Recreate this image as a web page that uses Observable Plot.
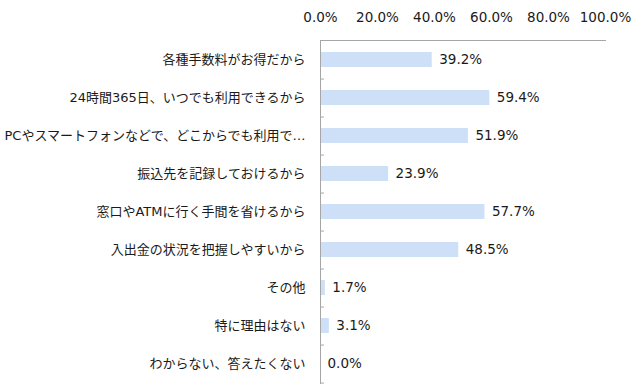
<!DOCTYPE html>
<html>
<head>
<meta charset="utf-8">
<script src="https://cdn.jsdelivr.net/npm/d3@7"></script>
<script src="https://cdn.jsdelivr.net/npm/@observablehq/plot@0.6"></script>
<style>
  html, body { margin: 0; padding: 0; background: #fff; }
</style>
</head>
<body>
<div id="chart"></div>
<script>
const categories = [
  "各種手数料がお得だから",
  "24時間365日、いつでも利用できるから",
  "PCやスマートフォンなどで、どこからでも利用で…",
  "振込先を記録しておけるから",
  "窓口やATMに行く手間を省けるから",
  "入出金の状況を把握しやすいから",
  "その他",
  "特に理由はない",
  "わからない、答えたくない"
];
const values = [39.2, 59.4, 51.9, 23.9, 57.7, 48.5, 1.7, 3.1, 0.0];
const xTicks = [0, 20, 40, 60, 80, 100];

const data = categories.map((c, i) => ({category: c, value: values[i]}));

const W = 640, H = 390, mTop = 40, mBottom = 7, mLeft = 320, mRight = 35;
const step = (H - mTop - mBottom) / categories.length;
const font = "'DejaVu Sans', 'Noto Sans CJK JP', sans-serif";

const chart = Plot.plot({
  width: W,
  height: H,
  marginTop: mTop,
  marginBottom: mBottom,
  marginLeft: mLeft,
  marginRight: mRight,
  style: {fontFamily: font, fontSize: "13px", color: "#1a1a1a", background: "#fff"},
  x: {domain: [0, 100], axis: null},
  y: {domain: categories, paddingInner: 0.6, paddingOuter: 0.3, axis: null},
  marks: [
    Plot.barX(data, {x: "value", y: "category", fill: "#cde0f8"}),
    Plot.frame({anchor: "top", stroke: "#a6a6a6"}),
    Plot.frame({anchor: "left", stroke: "#a6a6a6"}),
    Plot.ruleY(categories, {y: d => d, x1: 0, x2: 1.4, dy: step / 2, stroke: "#a6a6a6"}),
    Plot.text(data, {
      x: "value", y: "category",
      text: d => d.value.toFixed(1) + "%",
      textAnchor: "start", dx: 7, fontSize: 13.5, fill: "#1a1a1a"
    }),
    Plot.axisX({
      anchor: "top", ticks: xTicks, tickSize: 0, tickPadding: 19, label: null,
      tickFormat: d => d.toFixed(1) + "%", fontSize: 13.5, fill: "#1a1a1a"
    }),
    Plot.axisY({
      anchor: "left", tickSize: 0, tickPadding: 15, fontSize: 13, fill: "#1a1a1a",
      label: null, tickFormat: d => d
    })
  ]
});
document.getElementById("chart").appendChild(chart);
</script>
</body>
</html>
